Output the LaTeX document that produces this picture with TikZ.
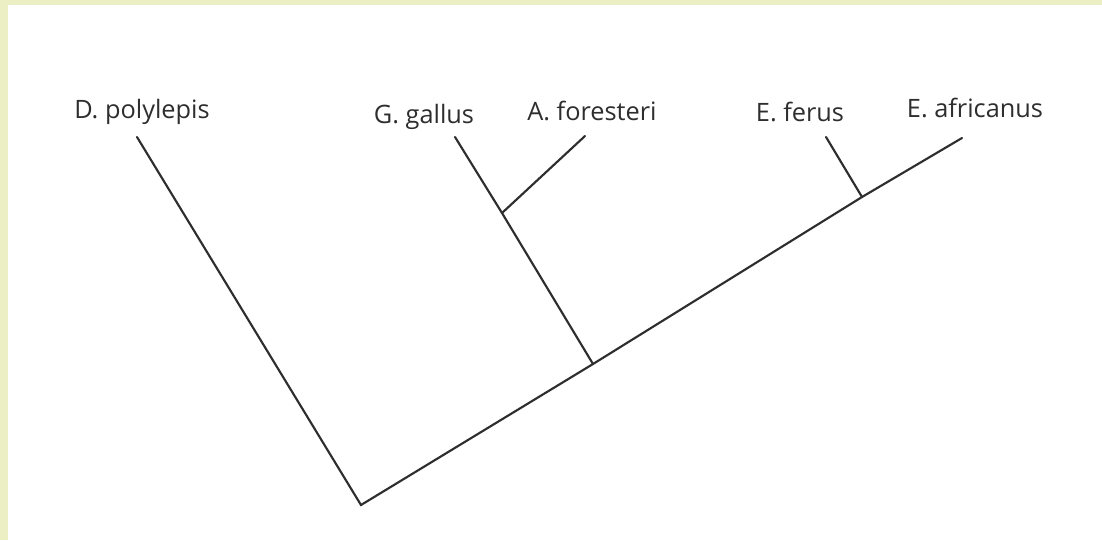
\documentclass[tikz,border=0pt]{standalone}
\usepackage{fontspec}
\setmainfont{Open Sans}
\definecolor{frame}{HTML}{ECEFC4}
\definecolor{ink}{HTML}{2E2E2E}
\begin{document}
\begin{tikzpicture}[x=0.75pt,y=-0.75pt,
  branch/.style={draw=ink,line width=1.6pt,line cap=round,line join=miter},
  taxon/.style={anchor=base,inner sep=0pt,font=\fontsize{19}{22}\selectfont,text=ink}]
\fill[frame] (0,0) rectangle (1102,540);
\fill[white] (8,5) rectangle (1102,540);
\useasboundingbox (0,0) rectangle (1102,540);
% labels
\node[taxon] (lD) at (142,118) {D. polylepis};
\node[taxon] (lG) at (424,123) {G. gallus};
\node[taxon] (lA) at (592,120) {A. foresteri};
\node[taxon] (lEf) at (800,121) {E. ferus};
\node[taxon] (lEa) at (975,117) {E. africanus};
% tips and junctions
\coordinate (root) at (361,505);
\coordinate (tD) at (137,137);
\coordinate (tG) at (455,137);
\coordinate (tA) at (585,136);
\coordinate (tEf) at (826,137);
\coordinate (tEa) at (962,138);
\coordinate (jG) at (593,364);
\coordinate (jA) at (502,213);
\coordinate (jE) at (862,197);
% branches
\draw[branch] (tD) -- (root) -- (jG) -- (jE) -- (tEa);
\draw[branch] (jG) -- (jA) -- (tG);
\draw[branch] (jA) -- (tA);
\draw[branch] (jE) -- (tEf);
\end{tikzpicture}
\end{document}
